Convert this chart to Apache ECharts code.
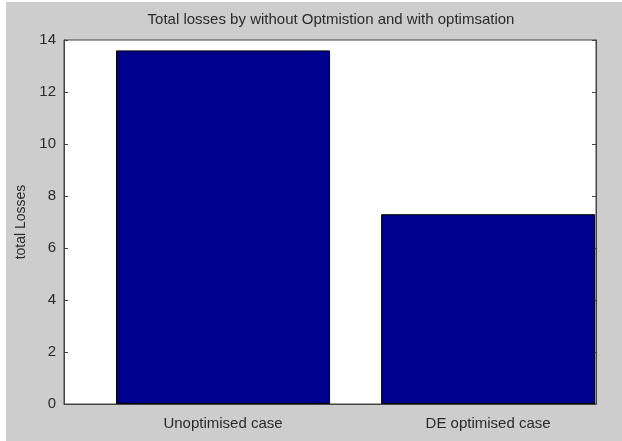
<!DOCTYPE html>
<html>
<head>
<meta charset="utf-8">
<script src="https://cdn.jsdelivr.net/npm/echarts@6/dist/echarts.min.js"></script>
<style>
html,body{margin:0;padding:0;background:#ffffff;width:622px;height:441px;overflow:hidden;}
#c{position:absolute;left:6px;top:2px;width:616px;height:439px;}
</style>
</head>
<body>
<div id="c"></div>
<script>
const titleText = "Total losses by without Optmistion and with optimsation";
const yAxisName = "total Losses";
const categories = ["Unoptimised case", "DE optimised case"];
const categoryPositions = [1, 2];
const lossValues = [13.6, 7.3];
const yTicks = [0, 2, 4, 6, 8, 10, 12, 14];

const chart = echarts.init(document.getElementById('c'), null, {renderer: 'canvas'});
const seriesData = categoryPositions.map((x, i) => [x, lossValues[i]]);
const font = 'Liberation Sans, Arial, sans-serif';
const txt = '#2a2a2a';
const option = {
  backgroundColor: '#cdcdcd',
  animation: false,
  title: {
    text: titleText,
    left: 320, top: 5, textAlign: 'center',
    textStyle: {fontFamily: font, fontSize: 15, fontWeight: 'normal', color: txt}
  },
  grid: {left: 55, top: 38, right: 26, bottom: 37, show: true, backgroundColor: '#ffffff', borderColor: '#444', borderWidth: 1},
  xAxis: {
    type: 'value', min: 0.4, max: 2.407,
    axisLine: {show: true, lineStyle: {color: '#444'}},
    axisTick: {show: false},
    splitLine: {show: false},
    axisLabel: {
      customValues: categoryPositions,
      formatter: v => categories[categoryPositions.indexOf(v)] || '',
      fontFamily: font, fontSize: 15, color: txt, margin: 12
    }
  },
  yAxis: [{
    type: 'value', min: 0, max: 14, interval: 2,
    name: yAxisName, nameLocation: 'middle', nameGap: 36, nameRotate: 90,
    nameTextStyle: {fontFamily: font, fontSize: 14, color: txt},
    axisLine: {show: true, lineStyle: {color: '#444'}},
    axisTick: {show: true, inside: true, length: 4, lineStyle: {color: '#444'}},
    splitLine: {show: false},
    axisLabel: {fontFamily: font, fontSize: 15, color: txt, margin: 8}
  }, {
    type: 'value', min: 0, max: 14, interval: 2, position: 'right',
    axisLine: {show: true, lineStyle: {color: '#444'}},
    axisTick: {show: true, inside: true, length: 4, lineStyle: {color: '#444'}},
    splitLine: {show: false},
    axisLabel: {show: false}
  }],
  series: [{
    type: 'bar', data: seriesData, barWidth: 214,
    itemStyle: {color: '#00008f', borderColor: '#000', borderWidth: 1},
    clip: true
  }]
};
chart.setOption(option);
</script>
</body>
</html>
